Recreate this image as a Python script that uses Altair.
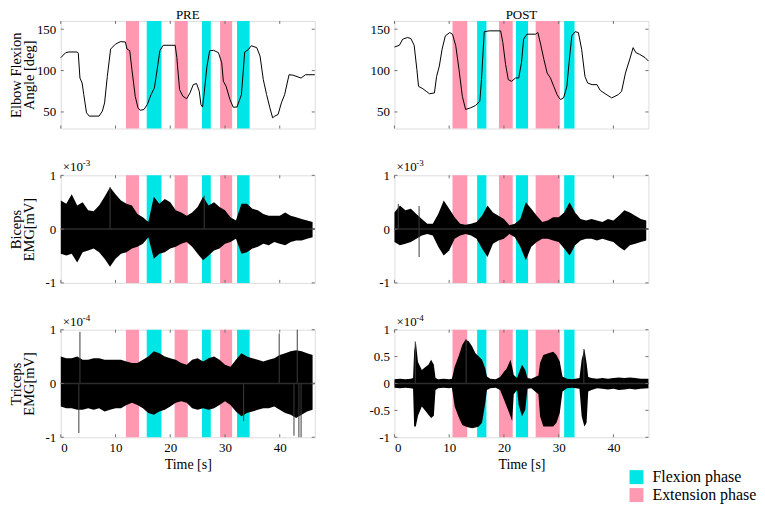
import altair as alt
import pandas as pd

FONT = "Liberation Serif"
CYAN = "#00E6E6"
PINK = "#FF99B2"
BOX = "#707070"
T_MAX = 46.4
W, H = 255, 108
FLEX, EXT = "Flexion phase", "Extension phase"

col_titles = ["PRE", "POST"]
row_titles = [["Elbow Flexion", "Angle [deg]"], ["Biceps", "EMG[mV]"], ["Triceps", "EMG[mV]"]]
time_ticks = [0, 10, 20, 30, 40]
angle_ticks = [50, 100, 150]
emg_ticks = [-1, 0, 1]
emg_ticks_fine = [-1, -0.5, 0, 0.5, 1]
exponents = ["-3", "-4"]

# ---- phase bands (s) ----
pre_flex_start = [15.7, 25.8, 32.2]
pre_flex_end = [18.4, 27.4, 34.5]
pre_ext_start = [11.9, 20.8, 29.1]
pre_ext_end = [14.3, 23.2, 31.3]
post_flex_start = [15.1, 22.2, 31.0]
post_flex_end = [16.8, 24.4, 32.9]
post_ext_start = [10.6, 19.1, 25.8]
post_ext_end = [13.3, 21.6, 30.2]

# ---- elbow angle (deg) ----
pre_angle_t = [0, 0.9, 1.5, 3.0, 3.2, 3.5, 3.9, 4.2, 4.7, 5.2, 7.0, 7.6, 8.0, 8.5, 9.1,
               10.0, 10.9, 11.8, 12.1, 12.6, 13.0, 13.6, 14.1, 14.5, 15.2, 15.8, 16.5, 17.1,
               17.6, 18.1, 18.7, 20.9, 21.2, 21.7, 22.3, 23.0, 23.6, 24.2, 24.8, 25.3, 25.6,
               25.9, 26.2, 26.7, 27.2, 27.9, 28.8, 29.4, 29.7, 30.2, 30.9, 31.5, 32.2, 33.0,
               33.6, 34.2, 34.8, 35.8, 36.4, 37.0, 37.6, 38.2, 38.7, 39.1, 39.7, 40.3, 40.9,
               41.7, 42.4, 43.9, 44.7, 46.4]
pre_angle = [115.6, 121.7, 122.5, 122.5, 121, 91, 85, 71, 49, 45, 45, 51, 61, 93, 126,
             132, 135, 134.6, 126, 124, 101, 69, 55, 52, 53, 59, 71, 79,
             101, 124, 130.6, 130.6, 115.6, 77, 69, 66, 73, 83, 84.4, 75, 59,
             56, 73, 105, 124, 124.5, 121.7, 109.5, 87, 81, 65, 55.7, 56, 71,
             122.5, 125, 130, 127.7, 117.6, 89, 71, 55, 43, 45, 47, 61, 71,
             95, 94.5, 91, 95, 95]
post_angle_t = [0, 0.9, 1.5, 2.4, 3.0, 3.6, 4.1, 4.4, 5.2, 5.8, 6.4, 7.3, 7.7, 8.2, 8.7,
                9.3, 10.1, 10.6, 11.2, 11.8, 12.4, 13.0, 13.9, 14.8, 15.6, 15.9, 16.4, 17.3,
                19.4, 19.8, 20.3, 20.8, 21.4, 22.1, 22.7, 23.2, 23.6, 24.2, 25.8, 26.2, 26.7,
                27.3, 27.9, 28.5, 29.1, 29.7, 30.3, 30.9, 31.5, 31.9, 32.4, 33.0, 33.6, 34.2,
                34.8, 35.3, 36.1, 37.0, 37.6, 38.5, 39.7, 40.9, 41.5, 42.2, 43.0, 43.6, 44.1,
                44.8, 45.8, 46.4]
post_angle = [128.5, 130.6, 137.9, 140, 138.7, 130.6, 101, 81, 78, 75, 72, 73, 93, 105.5, 125.7,
              142, 146, 144, 130, 101, 69, 53, 55, 57.7, 63, 89, 147, 148,
              148, 134, 107.5, 89, 87, 91, 91, 109.5, 138, 144, 144, 146, 132,
              113.6, 97, 91, 81, 71, 65, 67, 81, 109.5, 142, 147, 146, 125.7,
              93, 85, 83, 83, 76, 72, 67, 71, 75, 97, 114, 127.7, 121.7,
              119.6, 115.6, 111.5]

# ---- EMG envelopes (x10^-3 mV biceps, x10^-4 mV triceps), read each second ----
emg_t = list(range(47))
bic_pre_up = [0.53, 0.47, 0.65, 0.44, 0.5, 0.35, 0.33, 0.44, 0.6, 0.78,
              0.65, 0.53, 0.47, 0.44, 0.28, 0.22, 0.13, 0.6, 0.47, 0.56,
              0.5, 0.35, 0.31, 0.25, 0.31, 0.41, 0.6, 0.44, 0.5, 0.41,
              0.35, 0.22, 0.16, 0.47, 0.47, 0.38, 0.35, 0.28, 0.25, 0.25,
              0.25, 0.31, 0.25, 0.22, 0.19, 0.16, 0.13]
bic_pre_lo = [-0.46, -0.49, -0.46, -0.62, -0.43, -0.40, -0.36, -0.43, -0.55, -0.70,
              -0.55, -0.46, -0.43, -0.36, -0.33, -0.27, -0.15, -0.55, -0.46, -0.43,
              -0.36, -0.33, -0.27, -0.24, -0.33, -0.46, -0.58, -0.49, -0.40, -0.36,
              -0.27, -0.24, -0.18, -0.46, -0.43, -0.36, -0.33, -0.27, -0.30, -0.24,
              -0.27, -0.30, -0.24, -0.21, -0.21, -0.18, -0.15]
bic_post_up = [0.31, 0.44, 0.35, 0.38, 0.28, 0.19, 0.10, 0.10, 0.28, 0.53,
               0.38, 0.22, 0.10, 0.08, 0.10, 0.13, 0.25, 0.44, 0.31, 0.25,
               0.19, 0.07, 0.10, 0.19, 0.50, 0.38, 0.25, 0.13, 0.16, 0.22,
               0.22, 0.31, 0.50, 0.31, 0.19, 0.16, 0.19, 0.16, 0.13, 0.19,
               0.16, 0.25, 0.35, 0.31, 0.25, 0.19, 0.16]
bic_post_lo = [-0.24, -0.30, -0.27, -0.24, -0.18, -0.12, -0.09, -0.12, -0.33, -0.49,
               -0.40, -0.18, -0.12, -0.09, -0.12, -0.18, -0.36, -0.52, -0.27, -0.21,
               -0.18, -0.09, -0.15, -0.33, -0.58, -0.33, -0.24, -0.18, -0.18, -0.21,
               -0.24, -0.36, -0.49, -0.30, -0.21, -0.18, -0.18, -0.21, -0.18, -0.21,
               -0.24, -0.33, -0.40, -0.30, -0.27, -0.24, -0.21]
tri_pre_up = [0.5, 0.47, 0.47, 0.5, 0.44, 0.44, 0.47, 0.47, 0.44, 0.44,
              0.44, 0.44, 0.41, 0.38, 0.38, 0.44, 0.5, 0.6, 0.56, 0.5,
              0.47, 0.44, 0.38, 0.35, 0.44, 0.47, 0.41, 0.47, 0.5, 0.44,
              0.35, 0.31, 0.44, 0.56, 0.5, 0.47, 0.44, 0.41, 0.44, 0.47,
              0.53, 0.56, 0.6, 0.62, 0.6, 0.56, 0.53]
tri_pre_lo = [-0.43, -0.46, -0.46, -0.49, -0.49, -0.46, -0.49, -0.46, -0.52, -0.49,
              -0.46, -0.46, -0.40, -0.36, -0.40, -0.46, -0.55, -0.58, -0.52, -0.49,
              -0.43, -0.36, -0.33, -0.36, -0.46, -0.49, -0.46, -0.49, -0.46, -0.40,
              -0.33, -0.40, -0.52, -0.61, -0.55, -0.52, -0.49, -0.46, -0.46, -0.43,
              -0.49, -0.55, -0.58, -0.64, -0.58, -0.52, -0.49]
tri_post_t = [0, 1, 2, 3, 3.4, 3.6, 3.9, 4.3, 5.0, 5.6, 6.2, 6.7, 7.2, 7.5, 8,
              9, 10, 10.5, 11.0, 11.8, 12.4, 13.0, 13.6, 14.2, 14.8, 15.4, 16.0, 16.6, 16.9, 17.5,
              18.5, 19.3, 20.0, 20.5, 21.2, 21.5, 21.8, 22.4, 22.7, 23.3, 23.9, 24.3, 25, 26.3, 26.6,
              27.2, 28.1, 29.0, 29.6, 30.2, 30.7, 31.5, 32.5, 33.8, 34.2, 34.7, 35.1, 35.4, 36, 37,
              38, 39, 40, 41, 42, 43, 44, 45, 46.4]
tri_post_up = [0.08, 0.09, 0.08, 0.09, 0.10, 0.60, 0.78, 0.40, 0.25, 0.30, 0.35, 0.44, 0.35, 0.10, 0.08,
               0.09, 0.08, 0.09, 0.31, 0.53, 0.72, 0.82, 0.78, 0.69, 0.56, 0.50, 0.44, 0.28, 0.13, 0.09,
               0.08, 0.12, 0.22, 0.28, 0.44, 0.31, 0.16, 0.10, 0.19, 0.35, 0.25, 0.10, 0.09, 0.15, 0.38,
               0.53, 0.56, 0.59, 0.53, 0.41, 0.13, 0.09, 0.08, 0.10, 0.44, 0.64, 0.38, 0.12, 0.10, 0.09,
               0.10, 0.09, 0.10, 0.11, 0.10, 0.11, 0.10, 0.09, 0.09]
tri_post_lo = [-0.08, -0.09, -0.08, -0.09, -0.10, -0.80, -0.80, -0.60, -0.43, -0.50, -0.58, -0.64, -0.60, -0.12, -0.09,
               -0.08, -0.09, -0.08, -0.43, -0.64, -0.77, -0.80, -0.82, -0.83, -0.82, -0.80, -0.73, -0.36, -0.12, -0.09,
               -0.08, -0.12, -0.30, -0.43, -0.61, -0.70, -0.20, -0.12, -0.40, -0.61, -0.49, -0.10, -0.09, -0.20, -0.61,
               -0.80, -0.80, -0.80, -0.73, -0.55, -0.15, -0.09, -0.08, -0.10, -0.61, -0.80, -0.73, -0.15, -0.12, -0.09,
               -0.10, -0.11, -0.10, -0.12, -0.11, -0.10, -0.11, -0.10, -0.09]

# isolated spikes (time, peak value)
bic_pre_spike_t = [9.0, 26.2]
bic_pre_spike_v = [0.78, 0.62]
bic_post_spike_t = [0.7, 4.5, 4.5]
bic_post_spike_v = [0.47, 0.43, -0.52]
tri_pre_spike_t = [3.3, 3.5, 33.4, 39.9, 43.2, 42.6, 43.5, 43.9]
tri_pre_spike_v = [-0.92, 0.96, -0.70, 0.93, 1.0, -0.97, -1.0, -1.0]
tri_post_spike_t = [3.8, 13.1, 34.6]
tri_post_spike_v = [0.78, 0.82, 0.64]

xscale = alt.Scale(domain=[0, T_MAX], nice=False, zero=False)

LEGEND = alt.Legend(title=None, orient="none", legendX=570, legendY=450,
                    symbolType="square", symbolSize=196, symbolStrokeWidth=0,
                    symbolOpacity=1, labelFont=FONT, labelFontSize=16,
                    labelColor="black", labelOffset=8, rowPadding=2, padding=0)
color = alt.Color("phase:N", scale=alt.Scale(domain=[FLEX, EXT], range=[CYAN, PINK]),
                  legend=LEGEND)


def band_df(fs, fe, es, ee):
    rows = [{"start": s, "end": e, "phase": FLEX} for s, e in zip(fs, fe)]
    rows += [{"start": s, "end": e, "phase": EXT} for s, e in zip(es, ee)]
    return pd.DataFrame(rows)


def x_axis(bottom):
    if bottom:
        return alt.Axis(values=time_ticks, title="Time [s]", ticks=False, domain=False,
                        grid=False, labelFont=FONT, labelFontSize=13, labelColor="black",
                        labelPadding=4, labelExpr="'' + datum.value", titleFont=FONT,
                        titleFontSize=14, titleFontWeight="normal", titleColor="black",
                        titlePadding=3)
    return alt.Axis(values=time_ticks, title=None, labels=False, ticks=False,
                    domain=False, grid=False)


def y_axis(ticks, title):
    kw = dict(values=ticks, ticks=False, domain=False, grid=False, labelFont=FONT,
              labelFontSize=13, labelColor="black", labelPadding=5,
              labelExpr="'' + datum.value", minExtent=22, maxExtent=22)
    if title:
        return alt.Axis(title=title, titleFont=FONT, titleFontSize=14.5,
                        titleFontWeight="normal", titleColor="black", titlePadding=2,
                        titleLineHeight=13, **kw)
    return alt.Axis(title=None, **kw)


def panel(row, col, bands, series, spikes, yticks, ydomain):
    bottom = row == 2
    xa = x_axis(bottom)
    ya = y_axis(yticks, row_titles[row] if col == 0 else None)
    ys = alt.Scale(domain=ydomain, nice=False, zero=False)
    X = lambda f: alt.X(f, scale=xscale, axis=xa)
    Y = lambda f: alt.Y(f, scale=ys, axis=ya)

    layers = [alt.Chart(bands).mark_rect(opacity=1).encode(
        x=X("start:Q"), x2="end:Q", color=color)]
    if row == 0:
        df = pd.DataFrame({"t": series[0], "angle": series[1]})
        layers.append(alt.Chart(df).mark_line(color="black", strokeWidth=1).encode(
            x=X("t:Q"), y=Y("angle:Q")))
    else:
        df = pd.DataFrame({"t": series[0], "up": series[1], "lo": series[2]})
        layers.append(alt.Chart(df).mark_area(color="black", opacity=1,
                                              interpolate="linear").encode(
            x=X("t:Q"), y=Y("up:Q"), y2="lo:Q"))
        sp = pd.DataFrame({"t": spikes[0], "v": spikes[1]})
        layers.append(alt.Chart(sp).mark_rule(color="#3c3c3c", strokeWidth=1).encode(
            x=X("t:Q"), y=Y("v:Q"), y2=alt.datum(0)))
        layers.append(alt.Chart(pd.DataFrame({"z": [0]})).mark_rule(
            color="#2c2c2c", strokeWidth=1.5).encode(y=Y("z:Q")))
        ex = pd.DataFrame({"s": ["\u00d710"], "e": [exponents[row - 1]]})
        layers.append(alt.Chart(ex).mark_text(font=FONT, fontSize=13, align="left",
                                              baseline="alphabetic", color="black").encode(
            text="s:N", x=alt.value(2), y=alt.value(-4)))
        layers.append(alt.Chart(ex).mark_text(font=FONT, fontSize=9, align="left",
                                              baseline="alphabetic", color="black").encode(
            text="e:N", x=alt.value(22), y=alt.value(-9)))
    # inside ticks (MATLAB style box)
    xt = pd.DataFrame({"v": time_ticks})
    yt = pd.DataFrame({"v": yticks})
    layers.append(alt.Chart(xt).mark_rule(color=BOX).encode(
        x=X("v:Q"), y=alt.value(H), y2=alt.value(H - 3)))
    layers.append(alt.Chart(xt).mark_rule(color=BOX).encode(
        x=X("v:Q"), y=alt.value(0), y2=alt.value(3)))
    layers.append(alt.Chart(yt).mark_rule(color=BOX).encode(
        y=Y("v:Q"), x=alt.value(0), x2=alt.value(3)))
    layers.append(alt.Chart(yt).mark_rule(color=BOX).encode(
        y=Y("v:Q"), x=alt.value(W), x2=alt.value(W - 3)))
    if row == 0:
        tt = pd.DataFrame({"s": [col_titles[col]]})
        layers.append(alt.Chart(tt).mark_text(font=FONT, fontSize=13, align="center",
                                              baseline="alphabetic", color="black").encode(
            text="s:N", x=alt.value(W / 2), y=alt.value(-1.5)))
    return alt.layer(*layers).properties(width=W, height=H)


pre_b = band_df(pre_flex_start, pre_flex_end, pre_ext_start, pre_ext_end)
post_b = band_df(post_flex_start, post_flex_end, post_ext_start, post_ext_end)

panels = [
    panel(0, 0, pre_b, (pre_angle_t, pre_angle), None, angle_ticks, [30, 160]),
    panel(0, 1, post_b, (post_angle_t, post_angle), None, angle_ticks, [30, 160]),
    panel(1, 0, pre_b, (emg_t, bic_pre_up, bic_pre_lo),
          (bic_pre_spike_t, bic_pre_spike_v), emg_ticks, [-1, 1]),
    panel(1, 1, post_b, (emg_t, bic_post_up, bic_post_lo),
          (bic_post_spike_t, bic_post_spike_v), emg_ticks, [-1, 1]),
    panel(2, 0, pre_b, (emg_t, tri_pre_up, tri_pre_lo),
          (tri_pre_spike_t, tri_pre_spike_v), emg_ticks, [-1, 1]),
    panel(2, 1, post_b, (tri_post_t, tri_post_up, tri_post_lo),
          (tri_post_spike_t, tri_post_spike_v), emg_ticks_fine, [-1, 1]),
]

chart = alt.concat(*panels, columns=2, spacing={"row": 47, "column": 80},
                   bounds="flush").properties(
    padding={"left": 0, "top": 0, "right": 0, "bottom": 0}
).configure_view(stroke=BOX, strokeWidth=1).configure(background="white")

chart.save("out.html", embed_options={"renderer": "svg", "actions": False})
